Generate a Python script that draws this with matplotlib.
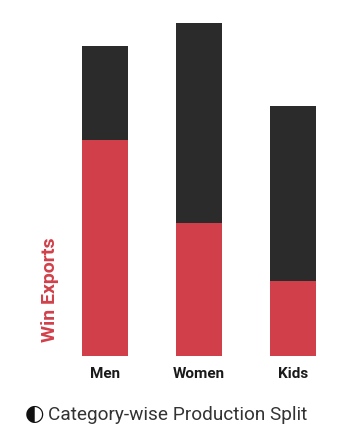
import matplotlib
matplotlib.use('Agg')
import matplotlib.pyplot as plt

# data (no y scale shown, women total = 100)
categories = ['Men', 'Women', 'Kids']
exports = [65, 40, 22.5]     # red, bottom part
domestic = [28, 60, 52.5]    # dark, stacked on top

red = '#d1404a'
dark = '#2b2b2b'

fig = plt.figure(figsize=(3.53, 4.42), dpi=100)
ax = fig.add_axes([0.110, 0.1946, 0.881, 0.7534])

x = range(len(categories))
ax.bar(x, exports, width=0.49, color=red, linewidth=0)
ax.bar(x, domestic, width=0.49, bottom=exports, color=dark, linewidth=0)

ax.set_xlim(-0.7, 2.6)
ax.set_ylim(0, 100)
ax.set_xticks(list(x))
ax.set_xticklabels(categories, fontsize=11, fontweight='bold', color='#1a1a1a',
                   family=['Roboto', 'DejaVu Sans'])
ax.tick_params(axis='x', length=0, pad=8)
ax.set_yticks([])
for s in ax.spines.values():
    s.set_visible(False)

ax.text(0.037, 0.20, 'Win Exports', transform=ax.transAxes, rotation=90,
        ha='center', va='center', color=red, fontsize=14, fontweight='bold',
        family=['Roboto', 'DejaVu Sans'])

fig.text(34.5 / 353, 1 - 414 / 442, '\u25d0', ha='center', va='center',
         fontsize=16, color='#111111', family='DejaVu Sans')
fig.text(48 / 353, 1 - 415 / 442, 'Category-wise Production Split', ha='left',
         va='center', fontsize=13.7, color='#333333', family=['Roboto', 'DejaVu Sans'])

fig.savefig('out.png', dpi=100)
